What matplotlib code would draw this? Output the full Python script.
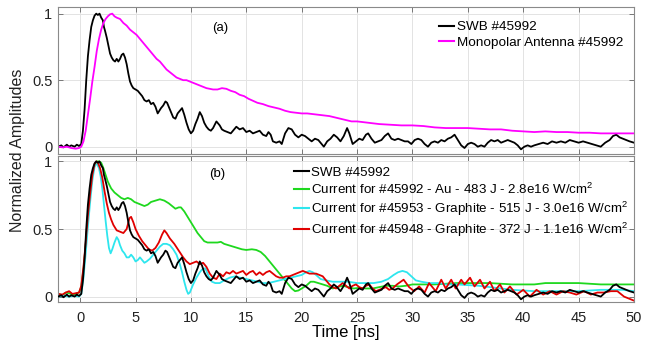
import matplotlib
matplotlib.use("Agg")
import matplotlib.pyplot as plt
import numpy as np

plt.rcParams['font.family'] = ['Liberation Sans', 'DejaVu Sans']
plt.rcParams['mathtext.fontset'] = 'custom'
plt.rcParams['mathtext.rm'] = 'Liberation Sans'
plt.rcParams['mathtext.it'] = 'Liberation Sans:italic'

# ---------------- data ----------------
swb_t = [-2.0, -1.7, -1.5, -1.2, -1.0, -0.8, -0.5, -0.3, -0.1, 0.1, 0.25, 0.4, 0.55, 0.7, 0.85,
         1.0, 1.15, 1.3, 1.45, 1.6, 1.75, 1.9, 2.05, 2.15, 2.25, 2.4, 2.55, 2.7, 2.85, 3.0,
         3.15, 3.3, 3.45, 3.6, 3.75, 3.9, 4.05, 4.2, 4.35, 4.5, 4.65, 4.8, 5.0, 5.2, 5.4,
         5.6, 5.8, 6.0, 6.2, 6.4, 6.6, 6.8, 7.0, 7.15, 7.3, 7.5, 7.7, 7.85, 8.0, 8.2,
         8.4, 8.6, 8.8, 9.0, 9.2, 9.4, 9.6, 9.8, 10.0, 10.2, 10.4, 10.6, 10.8, 11.0, 11.2,
         11.4, 11.6, 11.8, 12.0, 12.3, 12.6, 12.8, 13.0, 13.3, 13.6, 13.9, 14.1, 14.4, 14.7, 15.0,
         15.3, 15.6, 15.9, 16.2, 16.5, 16.8, 17.0, 17.2, 17.4, 17.7, 18.0, 18.2, 18.5, 18.8, 19.1,
         19.4, 19.7, 20.0, 20.3, 20.6, 20.9, 21.2, 21.5, 21.8, 22.0, 22.3, 22.6, 22.9, 23.2, 23.5,
         23.8, 24.1, 24.3, 24.6, 24.9, 25.2, 25.5, 25.8, 26.0, 26.3, 26.6, 26.9, 27.2, 27.5, 27.8,
         28.1, 28.4, 28.7, 29.0, 29.3, 29.6, 29.9, 30.2, 30.5, 30.8, 31.1, 31.4, 31.7, 32.0, 32.3,
         32.6, 32.9, 33.2, 33.5, 33.8, 34.1, 34.4, 34.7, 35.0, 35.3, 35.6, 35.9, 36.2, 36.5, 36.8,
         37.1, 37.4, 37.7, 38.0, 38.3, 38.6, 38.9, 39.2, 39.5, 39.8, 40.1, 40.4, 40.7, 41.0, 41.4,
         41.8, 42.2, 42.6, 43.0, 43.4, 43.8, 44.2, 44.6, 45.0, 45.4, 45.8, 46.2, 46.6, 47.0, 47.4,
         47.8, 48.1, 48.4, 48.7, 49.0, 49.3, 49.6, 50.0]
swb_v = [0.00, 0.01, -0.005, 0.015, 0.0, 0.01, 0.0, 0.015, 0.005, 0.02, 0.12, 0.28, 0.50, 0.68, 0.80,
         0.90, 0.95, 0.985, 1.0, 0.99, 1.0, 0.97, 0.95, 0.90, 0.87, 0.82, 0.76, 0.70, 0.67, 0.65,
         0.64, 0.66, 0.64, 0.66, 0.69, 0.70, 0.67, 0.62, 0.55, 0.49, 0.46, 0.44, 0.43, 0.42, 0.40,
         0.38, 0.35, 0.34, 0.35, 0.32, 0.33, 0.30, 0.25, 0.27, 0.29, 0.31, 0.34, 0.33, 0.30, 0.26,
         0.22, 0.21, 0.25, 0.27, 0.29, 0.24, 0.18, 0.13, 0.10, 0.12, 0.17, 0.21, 0.26, 0.23, 0.18,
         0.15, 0.13, 0.12, 0.14, 0.19, 0.16, 0.13, 0.12, 0.11, 0.10, 0.13, 0.15, 0.13, 0.14, 0.11,
         0.12, 0.10, 0.11, 0.12, 0.09, 0.08, 0.11, 0.09, 0.04, 0.03, 0.04, 0.02, 0.10, 0.14, 0.13,
         0.09, 0.07, 0.09, 0.08, 0.06, 0.04, 0.06, 0.05, 0.02, 0.0, 0.04, 0.06, 0.09, 0.07, 0.04,
         0.08, 0.14, 0.10, 0.02, 0.04, 0.06, 0.05, 0.09, 0.10, 0.06, 0.03, 0.04, 0.05, 0.08, 0.10,
         0.06, 0.05, 0.06, 0.05, 0.04, 0.04, 0.02, 0.05, 0.06, 0.05, 0.02, 0.0, 0.03, 0.04, 0.03,
         0.05, 0.04, 0.06, 0.07, 0.09, 0.05, 0.01, -0.01, 0.02, 0.03, 0.02, 0.0, 0.01, 0.0, 0.03,
         0.05, 0.04, 0.05, 0.03, 0.04, 0.05, 0.04, 0.03, 0.01, -0.02, 0.0, 0.01, 0.0, 0.01, 0.02,
         0.03, 0.02, 0.04, 0.03, 0.04, 0.03, 0.05, 0.04, 0.03, 0.04, 0.03, 0.02, 0.01, 0.0, 0.03,
         0.05, 0.08, 0.09, 0.07, 0.06, 0.05, 0.04, 0.03]

mono_t = [-2.0, -1.6, -1.2, -0.8, -0.4, -0.1, 0.1, 0.3, 0.5, 0.7, 0.9, 1.1, 1.3, 1.5, 1.7,
          1.9, 2.1, 2.3, 2.5, 2.7, 2.9, 3.1, 3.3, 3.6, 3.9, 4.2, 4.5, 4.8, 5.1, 5.4,
          5.7, 6.0, 6.3, 6.6, 6.9, 7.2, 7.5, 7.8, 8.1, 8.4, 8.7, 9.0, 9.3, 9.6, 9.9,
          10.2, 10.5, 10.8, 11.1, 11.4, 11.7, 12.0, 12.4, 12.8, 13.2, 13.6, 14.0, 14.4, 14.8, 15.2,
          15.6, 16.0, 16.5, 17.0, 17.5, 18.0, 18.5, 19.0, 19.5, 20.0, 20.5, 21.0, 21.5, 22.0, 22.5,
          23.0, 23.5, 24.0, 24.5, 25.0, 25.5, 26.0, 27.0, 28.0, 29.0, 30.0, 31.0, 32.0, 33.0, 34.0,
          35.0, 36.0, 37.0, 38.0, 39.0, 40.0, 41.0, 42.0, 43.0, 44.0, 45.0, 46.0, 47.0, 48.0, 49.0,
          50.0]
mono_v = [0.0, -0.005, 0.0, -0.01, -0.015, -0.01, 0.0, 0.04, 0.12, 0.24, 0.36, 0.49, 0.60, 0.72, 0.81,
          0.88, 0.93, 0.96, 0.98, 0.995, 1.0, 0.98, 0.97, 0.96, 0.93, 0.91, 0.88, 0.86, 0.84, 0.81,
          0.78, 0.75, 0.72, 0.69, 0.66, 0.64, 0.61, 0.58, 0.56, 0.54, 0.52, 0.51, 0.50, 0.50, 0.49,
          0.48, 0.47, 0.46, 0.45, 0.44, 0.435, 0.43, 0.43, 0.44, 0.435, 0.42, 0.41, 0.39, 0.38, 0.36,
          0.345, 0.33, 0.32, 0.305, 0.295, 0.285, 0.27, 0.26, 0.255, 0.25, 0.25, 0.245, 0.24, 0.235, 0.23,
          0.22, 0.21, 0.20, 0.19, 0.19, 0.185, 0.18, 0.17, 0.165, 0.16, 0.16, 0.155, 0.145, 0.14, 0.14,
          0.14, 0.135, 0.13, 0.13, 0.12, 0.115, 0.11, 0.115, 0.11, 0.11, 0.105, 0.105, 0.10, 0.10, 0.10,
          0.10]

au_t = [-2.0, -1.6, -1.3, -1.0, -0.7, -0.4, -0.1, 0.1, 0.3, 0.5, 0.7, 0.9, 1.1, 1.3, 1.5,
        1.7, 1.9, 2.1, 2.3, 2.5, 2.8, 3.1, 3.4, 3.7, 4.0, 4.3, 4.6, 4.9, 5.2, 5.5,
        5.8, 6.1, 6.4, 6.8, 7.2, 7.6, 8.0, 8.3, 8.6, 8.9, 9.1, 9.4, 9.7, 10.0, 10.3,
        10.6, 10.9, 11.2, 11.5, 12.0, 12.4, 12.7, 13.0, 13.4, 13.8, 14.2, 14.6, 15.0, 15.5, 15.9,
        16.3, 16.7, 17.0, 17.3, 17.6, 17.9, 18.2, 18.5, 18.8, 19.1, 19.4, 19.7, 20.0, 20.4, 20.8,
        21.1, 21.5, 21.9, 22.3, 22.8, 23.2, 23.7, 24.2, 24.7, 25.2, 25.8, 26.4, 27.0, 27.6, 28.2,
        28.8, 29.4, 30.0, 31.0, 32.0, 33.0, 34.0, 35.0, 36.0, 37.0, 38.0, 39.0, 40.0, 41.0, 42.0,
        43.0, 44.0, 45.0, 46.0, 47.0, 48.0, 49.0, 50.0]
au_v = [0.02, 0.01, 0.03, 0.025, 0.015, 0.02, 0.03, 0.07, 0.20, 0.38, 0.58, 0.75, 0.90, 0.97, 1.0,
        1.0, 0.99, 0.95, 0.90, 0.85, 0.80, 0.77, 0.75, 0.73, 0.72, 0.73, 0.72, 0.70, 0.69, 0.68,
        0.67, 0.68, 0.70, 0.71, 0.72, 0.71, 0.69, 0.67, 0.65, 0.66, 0.66, 0.63, 0.59, 0.55, 0.51,
        0.47, 0.44, 0.41, 0.40, 0.40, 0.40, 0.405, 0.39, 0.38, 0.37, 0.36, 0.35, 0.345, 0.35, 0.345,
        0.33, 0.30, 0.27, 0.24, 0.21, 0.18, 0.15, 0.12, 0.09, 0.06, 0.04, 0.045, 0.06, 0.08, 0.11,
        0.11, 0.10, 0.09, 0.08, 0.06, 0.07, 0.08, 0.07, 0.06, 0.065, 0.06, 0.06, 0.07, 0.08, 0.08,
        0.075, 0.08, 0.09, 0.09, 0.09, 0.095, 0.10, 0.10, 0.10, 0.10, 0.095, 0.09, 0.09, 0.09, 0.10,
        0.10, 0.10, 0.10, 0.095, 0.09, 0.09, 0.09, 0.09]

gr515_t = [-2.0, -1.5, -1.0, -0.5, -0.1, 0.1, 0.3, 0.5, 0.7, 0.9, 1.1, 1.3, 1.4, 1.55, 1.7,
           1.85, 2.0, 2.15, 2.3, 2.45, 2.6, 2.75, 2.9, 3.1, 3.3, 3.45, 3.6, 3.8, 4.0, 4.2,
           4.4, 4.6, 4.8, 5.0, 5.2, 5.4, 5.6, 5.8, 6.0, 6.3, 6.6, 6.9, 7.2, 7.5, 7.8,
           8.1, 8.4, 8.7, 9.0, 9.2, 9.4, 9.6, 9.75, 9.9, 10.2, 10.5, 10.8, 11.0, 11.3, 11.6,
           11.9, 12.2, 12.6, 13.0, 13.5, 14.0, 14.4, 15.0, 15.5, 16.0, 16.5, 17.0, 17.5, 18.0, 18.5,
           19.0, 19.5, 20.0, 20.4, 20.7, 21.0, 21.3, 21.7, 22.2, 22.8, 23.5, 24.2, 25.0, 25.8, 26.5,
           27.2, 27.8, 28.3, 28.7, 29.1, 29.5, 29.9, 30.3, 30.8, 31.5, 32.3, 33.0, 34.0, 35.0, 36.0,
           37.0, 38.0, 39.0, 40.0, 41.0, 42.0, 43.0, 44.0, 45.0, 46.0, 47.0, 48.0, 49.0, 50.0]
gr515_v = [0.0, 0.005, 0.0, 0.005, 0.0, 0.02, 0.14, 0.32, 0.52, 0.70, 0.86, 0.96, 0.98, 0.975, 0.95,
           0.89, 0.80, 0.68, 0.56, 0.45, 0.36, 0.32, 0.35, 0.40, 0.44, 0.42, 0.38, 0.34, 0.32, 0.29,
           0.29, 0.31, 0.29, 0.26, 0.27, 0.29, 0.27, 0.25, 0.26, 0.28, 0.31, 0.34, 0.37, 0.39, 0.39,
           0.38, 0.35, 0.31, 0.24, 0.18, 0.11, 0.05, 0.02, 0.03, 0.09, 0.14, 0.18, 0.20, 0.21, 0.15,
           0.11, 0.10, 0.10, 0.12, 0.14, 0.15, 0.14, 0.13, 0.12, 0.11, 0.10, 0.10, 0.11, 0.12, 0.13,
           0.14, 0.15, 0.16, 0.18, 0.19, 0.18, 0.16, 0.13, 0.12, 0.11, 0.11, 0.11, 0.10, 0.10, 0.10,
           0.11, 0.13, 0.16, 0.18, 0.19, 0.18, 0.15, 0.12, 0.11, 0.10, 0.10, 0.09, 0.09, 0.085, 0.08,
           0.07, 0.06, 0.05, 0.045, 0.04, 0.04, 0.04, 0.04, 0.04, 0.045, 0.05, 0.05, 0.05, 0.04]

gr372_t = [-2.0, -1.6, -1.3, -1.0, -0.7, -0.4, -0.1, 0.1, 0.3, 0.5, 0.7, 0.9, 1.1, 1.3, 1.45,
           1.6, 1.8, 2.0, 2.2, 2.4, 2.6, 2.8, 3.0, 3.3, 3.6, 3.9, 4.2, 4.45, 4.6, 4.8,
           5.0, 5.3, 5.6, 5.9, 6.2, 6.5, 6.8, 7.1, 7.4, 7.6, 7.8, 8.1, 8.5, 8.9, 9.3,
           9.6, 9.9, 10.2, 10.5, 10.8, 11.1, 11.4, 11.7, 12.0, 12.3, 12.6, 12.9, 13.2, 13.5, 13.8,
           14.1, 14.4, 14.7, 15.0, 15.3, 15.6, 15.9, 16.2, 16.5, 16.8, 17.1, 17.4, 17.7, 18.0, 18.3,
           18.6, 18.9, 19.2, 19.5, 19.8, 20.1, 20.4, 20.7, 21.0, 21.3, 21.6, 21.9, 22.2, 22.5, 22.8,
           23.1, 23.4, 23.7, 24.0, 24.3, 24.6, 24.9, 25.2, 25.5, 25.8, 26.1, 26.4, 26.7, 27.0, 27.3,
           27.6, 27.9, 28.2, 28.6, 29.2, 29.7, 30.15, 30.6, 31.1, 31.5, 32.1, 32.6, 33.0, 33.5, 33.9,
           34.4, 34.7, 35.2, 35.6, 36.1, 36.5, 37.0, 37.4, 37.9, 38.3, 38.8, 39.4, 40.0, 40.6, 41.2,
           41.8, 42.4, 43.0, 43.6, 44.2, 44.8, 45.5, 46.1, 46.7, 47.3, 47.9, 48.5, 49.1, 49.7, 50.0]
gr372_v = [0.02, 0.015, 0.03, 0.04, 0.02, 0.025, 0.03, 0.08, 0.22, 0.40, 0.60, 0.76, 0.90, 0.98, 1.0,
           0.99, 0.95, 0.88, 0.78, 0.69, 0.62, 0.57, 0.53, 0.49, 0.48, 0.47, 0.50, 0.58, 0.59, 0.55,
           0.50, 0.45, 0.41, 0.38, 0.35, 0.34, 0.36, 0.40, 0.46, 0.49, 0.47, 0.43, 0.39, 0.34, 0.29,
           0.26, 0.24, 0.25, 0.26, 0.24, 0.25, 0.22, 0.17, 0.14, 0.13, 0.17, 0.15, 0.18, 0.17, 0.19,
           0.17, 0.18, 0.19, 0.16, 0.18, 0.19, 0.16, 0.18, 0.16, 0.18, 0.19, 0.17, 0.15, 0.14, 0.14,
           0.15, 0.15, 0.16, 0.17, 0.18, 0.19, 0.18, 0.17, 0.17, 0.17, 0.16, 0.15, 0.12, 0.09, 0.07,
           0.06, 0.08, 0.10, 0.08, 0.06, 0.08, 0.09, 0.07, 0.06, 0.08, 0.09, 0.06, 0.04, 0.05, 0.06,
           0.07, 0.05, 0.06, 0.09, 0.125, 0.07, 0.04, 0.075, 0.03, 0.10, 0.04, 0.125, 0.06, 0.125, 0.06,
           0.125, 0.09, 0.14, 0.075, 0.125, 0.06, 0.11, 0.04, 0.09, 0.03, 0.075, 0.015, 0.05, 0.0, 0.05,
           0.015, 0.04, 0.015, 0.04, 0.03, 0.015, 0.04, 0.015, 0.03, 0.03, 0.04, 0.04, 0.0, -0.02, -0.03]

legend_top = ['SWB #45992', 'Monopolar Antenna #45992']
legend_bot = ['SWB #45992',
              'Current for #45992 - Au - 483 J - 2.8e16 W/cm$^2$',
              'Current for #45953 - Graphite - 515 J - 3.0e16 W/cm$^2$',
              'Current for #45948 - Graphite - 372 J - 1.1e16 W/cm$^2$']
xticks = [0, 5, 10, 15, 20, 25, 30, 35, 40, 45, 50]
yticks = [0, 0.5, 1]
ytick_labels = ['0', '0.5', '1']

# ---------------- figure ----------------
W, H = 653, 342
fig = plt.figure(figsize=(W / 100, H / 100), dpi=100)
ax1 = fig.add_axes([58 / W, 1 - 154 / H, 576 / W, 147 / H])
ax2 = fig.add_axes([58 / W, 1 - 302 / H, 576 / W, 146 / H])

c_black = '#000000'
c_mag = '#ff00ff'
c_green = '#1ed81e'
c_cyan = '#2ee6ee'
c_red = '#e00000'
lw = 1.3

ax1.plot(swb_t, swb_v, color=c_black, lw=lw, label=legend_top[0])
ax1.plot(mono_t, mono_v, color=c_mag, lw=lw, label=legend_top[1])

ax2.plot(swb_t, swb_v, color=c_black, lw=lw, label=legend_bot[0], zorder=3)
ax2.plot(au_t, au_v, color=c_green, lw=lw, label=legend_bot[1], zorder=2)
ax2.plot(gr515_t, gr515_v, color=c_cyan, lw=lw, label=legend_bot[2], zorder=2)
ax2.plot(gr372_t, gr372_v, color=c_red, lw=lw, label=legend_bot[3], zorder=2.5)

for ax in (ax1, ax2):
    ax.set_xlim(-2, 50)
    ax.set_ylim(-0.055, 1.05)
    ax.set_xticks(xticks)
    ax.set_yticks(yticks)
    ax.set_yticklabels(ytick_labels)
    ax.grid(True, color='#e3e3e3', lw=0.7)
    ax.set_axisbelow(True)
    ax.tick_params(direction='in', length=3.5, width=0.7, color='#777777',
                   top=True, right=True, labelsize=10.5, labelcolor='#222222', pad=4)
    for s in ax.spines.values():
        s.set_color('#8a8a8a')
        s.set_linewidth(0.8)
ax1.set_xticklabels([])
ax2.set_xticklabels([str(v) for v in xticks])
ax2.tick_params(axis='x', pad=6.5)
ax2.set_ylim(-0.04, 1.04)

ax1.text(12.6, 0.89, '(a)', fontsize=9.5, ha='center', va='center')
ax2.text(12.4, 0.905, '(b)', fontsize=9.5, ha='center', va='center')

leg1 = ax1.legend(loc='upper left', bbox_to_anchor=(0.662, 0.905), frameon=False,
                  fontsize=9.7, handlelength=1.1, handletextpad=0.2, labelspacing=0.22,
                  borderaxespad=0, borderpad=0)
leg2 = ax2.legend(loc='upper left', bbox_to_anchor=(0.41, 0.93), frameon=False,
                  fontsize=9.6, handlelength=1.1, handletextpad=0.2, labelspacing=0.22,
                  borderaxespad=0, borderpad=0)
for leg in (leg1, leg2):
    for l in leg.get_lines():
        l.set_linewidth(1.5)

ax2.set_xlabel('Time [ns]', fontsize=12, labelpad=0)
fig.text(18 / W, 1 - 150 / H, 'Normalized Amplitudes', rotation=90, fontsize=11.5,
         ha='center', va='center', color='#222222')

fig.savefig('out.png', dpi=100)
